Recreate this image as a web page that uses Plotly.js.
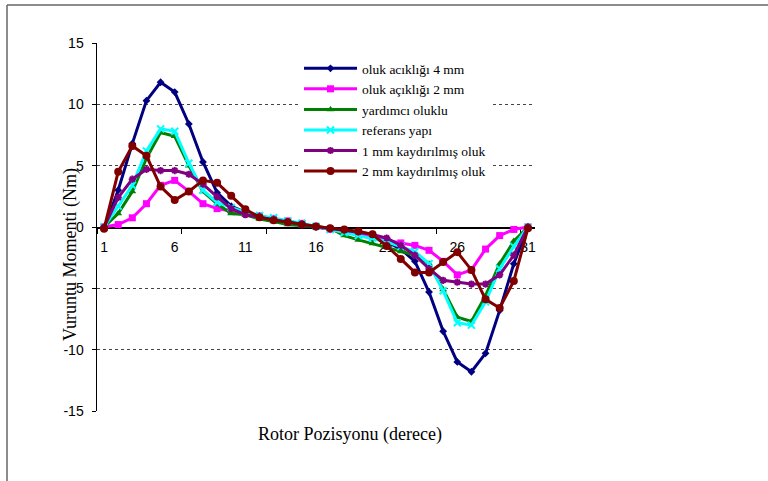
<!DOCTYPE html>
<html>
<head>
<meta charset="utf-8">
<script src="https://cdn.plot.ly/plotly-3.0.1.min.js"></script>
<style>
  html, body { margin: 0; padding: 0; background: #fff; }
  #chart { width: 768px; height: 481px; }
</style>
</head>
<body>
<div id="chart"></div>
<script>
// Rotor positions (categories)
const positions = Array.from({length: 31}, (_, i) => i + 1);
const xTickVals = [1, 6, 11, 16, 21, 26, 31];
const xTickText = ["1", "6", "11", "16", "21", "26", "31"];
const yTickVals = [-15, -10, -5, 0, 5, 10, 15];
const yTickText = ["-15", "-10", "-5", "0", "5", "10", "15"];

const seriesNames = [
  "oluk acıklığı 4 mm",
  "oluk açıklığı 2 mm",
  "yardımcı oluklu",
  "referans yapı",
  "1 mm kaydırılmış oluk",
  "2 mm kaydırılmış oluk"
];

const oluk4mm = [-0.1, 3.0, 6.8, 10.3, 11.8, 11.0, 8.4, 5.3, 2.8, 1.7, 1.2, 0.9, 0.6, 0.4, 0.2, 0.0,
  -0.2, -0.4, -0.6, -0.9, -1.2, -1.8, -2.8, -5.3, -8.5, -11.0, -11.8, -10.3, -6.8, -3.0, 0.0];
const oluk2mm = [0.0, 0.2, 0.75, 1.9, 3.4, 3.8, 2.9, 1.9, 1.5, 1.3, 1.1, 0.9, 0.7, 0.5, 0.3, 0.05,
  -0.2, -0.4, -0.6, -0.8, -1.1, -1.3, -1.5, -1.9, -2.8, -3.9, -3.5, -1.8, -0.7, -0.2, 0.0];
const yardimci = [0.0, 1.1, 2.9, 5.6, 7.7, 7.4, 5.0, 2.9, 1.9, 1.1, 1.0, 0.65, 0.45, 0.2, 0.1, 0.05,
  -0.1, -0.7, -1.05, -1.35, -1.65, -2.0, -2.3, -3.0, -5.1, -7.35, -7.7, -5.6, -3.0, -1.15, 0.0];
const referans = [0.0, 1.7, 3.4, 6.2, 8.0, 7.8, 5.2, 3.0, 2.0, 1.6, 1.2, 0.95, 0.75, 0.5, 0.3, 0.05,
  -0.2, -0.45, -0.7, -0.9, -1.2, -1.6, -2.0, -3.0, -5.2, -7.8, -8.0, -6.1, -3.4, -1.6, 0.0];
const kaydirilmis1 = [0.0, 2.4, 3.9, 4.7, 4.6, 4.6, 4.3, 3.5, 2.45, 1.5, 1.0, 0.8, 0.6, 0.35, 0.2, 0.05,
  -0.1, -0.25, -0.4, -0.6, -0.9, -1.5, -2.3, -3.4, -4.35, -4.5, -4.65, -4.65, -3.9, -2.3, 0.0];
const kaydirilmis2 = [-0.15, 4.5, 6.6, 5.8, 3.3, 2.2, 2.9, 3.8, 3.6, 2.55, 1.45, 0.8, 0.55, 0.4, 0.2, 0.05,
  -0.1, -0.2, -0.35, -0.6, -1.55, -2.6, -3.7, -3.7, -2.85, -2.05, -3.5, -5.9, -6.6, -4.4, -0.1];

const seriesValues = [oluk4mm, oluk2mm, yardimci, referans, kaydirilmis1, kaydirilmis2];
const colors = ["#000080", "#FF00FF", "#008000", "#00FFFF", "#800080", "#800000"];
const symbols = ["diamond", "square", "triangle-up", "x-thin-open", "asterisk-open", "circle"];
const sizes = [6, 7, 7, 7, 6, 8];

const traces = seriesValues.map((vals, k) => ({
  type: "scatter",
  mode: "lines+markers",
  x: positions,
  y: vals,
  name: seriesNames[k],
  line: {color: colors[k], width: 3},
  marker: {
    symbol: symbols[k],
    size: sizes[k],
    color: colors[k],
    line: {color: colors[k], width: (symbols[k].endsWith("open") ? 2 : 0)}
  }
}));

const W = 768, H = 481;
const L = 97, R = 233, T = 43, B = 70;
const pw = W - L - R, ph = H - T - B;
const px = v => (v - L) / pw;
const py = v => (H - B - v) / ph;

const layout = {
  width: W, height: H,
  margin: {l: L, r: R, t: T, b: B, pad: 0},
  paper_bgcolor: "#fff",
  plot_bgcolor: "#fff",
  showlegend: true,
  font: {family: "Liberation Sans, Arial, sans-serif", size: 14, color: "#000"},
  xaxis: {
    range: [0.5, 31.5],
    anchor: "free",
    position: 0.5,
    showline: true,
    linecolor: "#000",
    linewidth: 1.5,
    showgrid: false,
    zeroline: false,
    tickmode: "array",
    tickvals: xTickVals,
    ticktext: xTickText,
    ticks: "",
    ticklabelstandoff: 7,
    tickfont: {family: "Liberation Sans, Arial, sans-serif", size: 14, color: "#000"},
    minor: {tick0: 0.5, dtick: 6, ticks: "outside", ticklen: 5, tickcolor: "#000", tickwidth: 1, showgrid: false},
    layer: "below traces"
  },
  yaxis: {
    range: [-15, 15],
    showline: true,
    linecolor: "#000",
    linewidth: 1.5,
    zeroline: false,
    showgrid: true,
    gridcolor: "#444",
    griddash: "dot",
    gridwidth: 1,
    tickmode: "array",
    tickvals: yTickVals,
    ticktext: yTickText,
    ticks: "outside",
    ticklen: 4,
    tickcolor: "#000",
    ticklabelstandoff: 5,
    tickfont: {family: "Liberation Sans, Arial, sans-serif", size: 14, color: "#000"},
    layer: "below traces"
  },
  legend: {
    x: px(299), y: py(53),
    xanchor: "left", yanchor: "top",
    bgcolor: "#fff",
    borderwidth: 0,
    itemwidth: 53,
    font: {family: "Liberation Serif, Times New Roman, serif", size: 13.5, color: "#000"},
    tracegroupgap: 0
  },
  annotations: [
    {
      text: "Rotor Pozisyonu (derece)",
      xref: "paper", yref: "paper",
      x: px(350), y: py(434),
      xanchor: "center", yanchor: "middle",
      showarrow: false,
      font: {family: "Liberation Serif, Times New Roman, serif", size: 18, color: "#000"}
    },
    {
      text: "Vuruntu Momenti (Nm)",
      xref: "paper", yref: "paper",
      x: px(70), y: py(255),
      xanchor: "center", yanchor: "middle",
      textangle: -90,
      showarrow: false,
      font: {family: "Liberation Serif, Times New Roman, serif", size: 18, color: "#000"}
    }
  ],
  shapes: [
    {type: "line", xref: "paper", yref: "paper", x0: px(7), x1: px(7), y0: py(5), y1: py(490),
     line: {color: "#666", width: 1.5}},
    {type: "line", xref: "paper", yref: "paper", x0: px(7), x1: px(775), y0: py(5), y1: py(5),
     line: {color: "#666", width: 1.5}}
  ]
};

Plotly.newPlot("chart", traces, layout, {staticPlot: true, displayModeBar: false});
</script>
</body>
</html>
